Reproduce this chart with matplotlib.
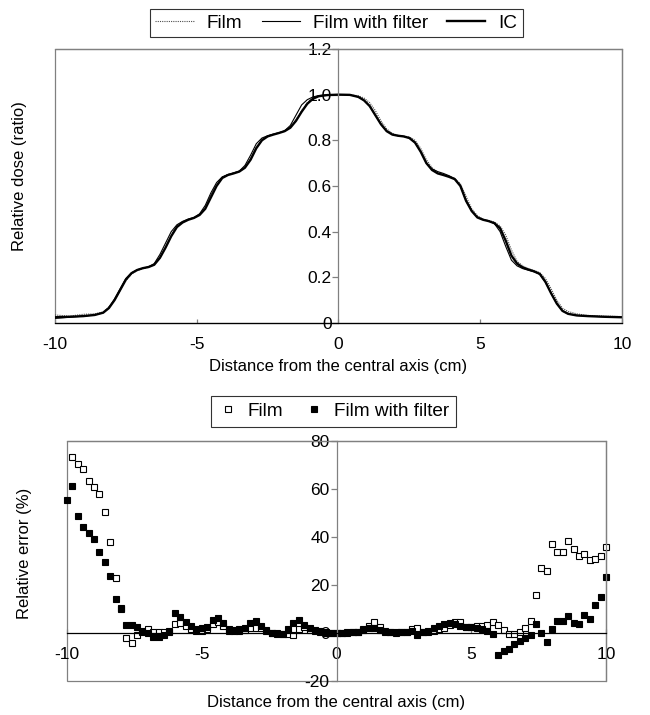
import numpy as np
import matplotlib.pyplot as plt
from matplotlib.patches import Rectangle

plt.rcParams['font.family'] = ['Liberation Sans', 'DejaVu Sans']
plt.rcParams['axes.unicode_minus'] = False

# dose profile (top panel)
dose_x = [-10.0, -9.5, -9.0, -8.6, -8.3, -8.1, -7.9, -7.7, -7.5, -7.3, -7.1, -6.9, -6.7, -6.5, -6.3,
          -6.1, -5.9, -5.7, -5.5, -5.3, -5.1, -4.9, -4.7, -4.5, -4.3, -4.1, -3.9, -3.7, -3.5, -3.3,
          -3.1, -2.9, -2.7, -2.5, -2.3, -2.1, -1.9, -1.7, -1.5, -1.3, -1.1, -0.9, -0.7, -0.4,
          0.0, 0.4, 0.7, 0.9, 1.1, 1.3, 1.5, 1.7, 1.9, 2.1, 2.3, 2.5, 2.7, 2.9, 3.1, 3.3, 3.5, 3.7,
          3.9, 4.1, 4.3, 4.5, 4.7, 4.9, 5.1, 5.3, 5.5, 5.7, 5.9, 6.1, 6.3, 6.5, 6.7, 6.9, 7.1, 7.3,
          7.5, 7.7, 7.9, 8.1, 8.4, 8.8, 9.4, 10.0]
dose_ic = [0.025, 0.027, 0.03, 0.035, 0.045, 0.065, 0.10, 0.145, 0.19, 0.218, 0.232, 0.24, 0.245, 0.255, 0.285,
           0.33, 0.38, 0.42, 0.44, 0.452, 0.46, 0.473, 0.50, 0.55, 0.60, 0.635, 0.648, 0.655, 0.663, 0.68,
           0.715, 0.765, 0.80, 0.817, 0.825, 0.832, 0.84, 0.855, 0.885, 0.925, 0.96, 0.982, 0.993, 0.998,
           1.0, 0.999, 0.99, 0.975, 0.95, 0.91, 0.87, 0.84, 0.825, 0.82, 0.817, 0.81, 0.79, 0.75, 0.70, 0.67,
           0.655, 0.648, 0.64, 0.63, 0.60, 0.535, 0.49, 0.462, 0.452, 0.446, 0.437, 0.415, 0.36, 0.295, 0.26,
           0.243, 0.234, 0.226, 0.215, 0.18, 0.13, 0.085, 0.053, 0.04, 0.033, 0.03, 0.027, 0.025]
dose_filter = [0.02, 0.025, 0.03, 0.035, 0.045, 0.068, 0.105, 0.15, 0.195, 0.22, 0.233, 0.24, 0.246, 0.26, 0.30,
               0.35, 0.40, 0.43, 0.445, 0.455, 0.462, 0.478, 0.515, 0.57, 0.615, 0.64, 0.65, 0.657, 0.665, 0.69,
               0.735, 0.785, 0.81, 0.82, 0.827, 0.833, 0.842, 0.865, 0.91, 0.955, 0.978, 0.99, 0.996, 0.999,
               1.0, 0.999, 0.99, 0.975, 0.95, 0.91, 0.87, 0.84, 0.826, 0.82, 0.817, 0.81, 0.79, 0.75, 0.70, 0.675,
               0.663, 0.655, 0.645, 0.632, 0.60, 0.535, 0.49, 0.463, 0.453, 0.447, 0.435, 0.40, 0.335, 0.275, 0.25,
               0.238, 0.231, 0.224, 0.213, 0.178, 0.13, 0.085, 0.053, 0.04, 0.033, 0.03, 0.027, 0.025]
dose_film = [0.035, 0.03, 0.038, 0.04, 0.048, 0.07, 0.10, 0.14, 0.185, 0.215, 0.23, 0.238, 0.244, 0.255, 0.285,
             0.33, 0.385, 0.425, 0.442, 0.452, 0.46, 0.475, 0.505, 0.56, 0.605, 0.637, 0.65, 0.657, 0.665, 0.682,
             0.72, 0.77, 0.803, 0.818, 0.826, 0.833, 0.84, 0.86, 0.89, 0.93, 0.965, 0.985, 0.995, 0.999,
             1.0, 1.0, 0.995, 0.985, 0.965, 0.93, 0.885, 0.85, 0.83, 0.822, 0.818, 0.815, 0.80, 0.765, 0.715, 0.68,
             0.66, 0.65, 0.642, 0.633, 0.61, 0.555, 0.50, 0.47, 0.455, 0.448, 0.442, 0.425, 0.385, 0.32, 0.27,
             0.25, 0.238, 0.23, 0.22, 0.195, 0.15, 0.10, 0.065, 0.05, 0.04, 0.033, 0.03, 0.028]

# relative error (bottom panel)
err_x = [-10.0, -9.8, -9.6, -9.4, -9.2, -9.0, -8.8, -8.6, -8.4, -8.2,
         -8.0, -7.8, -7.6, -7.4, -7.2, -7.0, -6.8, -6.6, -6.4, -6.2,
         -6.0, -5.8, -5.6, -5.4, -5.2, -5.0, -4.8, -4.6, -4.4, -4.2,
         -4.0, -3.8, -3.6, -3.4, -3.2, -3.0, -2.8, -2.6, -2.4, -2.2,
         -2.0, -1.8, -1.6, -1.4, -1.2, -1.0, -0.8, -0.6, -0.4, -0.2,
         0.0, 0.2, 0.4, 0.6, 0.8, 1.0, 1.2, 1.4, 1.6, 1.8,
         2.0, 2.2, 2.4, 2.6, 2.8, 3.0, 3.2, 3.4, 3.6, 3.8,
         4.0, 4.2, 4.4, 4.6, 4.8, 5.0, 5.2, 5.4, 5.6, 5.8,
         6.0, 6.2, 6.4, 6.6, 6.8, 7.0, 7.2, 7.4, 7.6, 7.8,
         8.0, 8.2, 8.4, 8.6, 8.8, 9.0, 9.2, 9.4, 9.6, 9.8,
         10.0]
err_film = [np.nan, 73.2, 70.3, 68.2, 63.5, 61.0, 57.8, 50.4, 38.1, 23.1,
            10.0, -2.2, -4.0, -0.8, 0.6, 1.5, 0.6, 0.6, 0.6, 0.8,
            3.8, 4.0, 3.0, 1.5, 1.0, 1.0, 1.5, 3.8, 4.5, 3.0,
            1.0, 0.8, 1.0, 1.2, 2.0, 2.2, 2.0, 0.8, 0.0, -0.3,
            -0.5, -0.5, -0.8, 1.5, 2.5, 1.2, 0.8, 0.5, 0.3, 0.0,
            0.0, 0.1, 0.2, 0.3, 0.6, 1.5, 3.0, 4.7, 2.6, 1.0,
            0.3, 0.0, 0.3, 0.5, 1.5, 1.9, 0.5, 0.5, 1.0, 1.5,
            2.0, 3.5, 4.4, 4.4, 2.6, 2.6, 3.0, 3.0, 3.3, 4.7,
            3.3, 1.3, -0.6, -0.6, 0.6, 1.9, 5.0, 15.7, 27.1, 26.0,
            36.9, 33.6, 33.6, 38.2, 35.0, 32.2, 33.1, 30.4, 30.8, 32.1,
            36.0]
err_filter = [55.4, 61.4, 48.9, 44.0, 41.8, 39.2, 33.9, 29.4, 23.8, 14.0,
              10.6, 3.3, 3.3, 2.6, 0.8, -0.1, -1.5, -1.5, -0.8, 0.6,
              8.5, 6.8, 4.5, 3.0, 1.5, 1.9, 2.6, 5.4, 6.1, 4.0,
              1.5, 1.2, 1.5, 1.9, 4.0, 5.1, 2.9, 1.2, 0.1, -0.1,
              -0.4, 1.5, 4.0, 5.4, 3.3, 1.9, 1.2, 1.0, 0.1, 0.0,
              0.0, 0.0, 0.1, 0.3, 0.6, 1.2, 2.0, 2.2, 1.2, 0.6,
              0.3, 0.3, 0.2, 0.5, 0.8, -0.8, 0.3, 1.0, 2.0, 3.0,
              3.6, 4.2, 3.8, 2.8, 2.4, 2.3, 2.0, 1.8, 0.8, -0.3,
              -9.2, -7.4, -6.8, -4.6, -3.2, -2.2, -0.8, 3.6, -0.1, -3.6,
              1.5, 5.1, 5.1, 7.2, 4.0, 3.75, 7.5, 5.7, 11.7, 15.1,
              23.2]

x_ticks = [-10, -5, 0, 5, 10]
dose_yticks = [0, 0.2, 0.4, 0.6, 0.8, 1.0, 1.2]
dose_ylabels = ['0', '0.2', '0.4', '0.6', '0.8', '1.0', '1.2']
err_yticks = [-20, 0, 20, 40, 60, 80]

GRAY = '#808080'
FS = 12
TICK_FS = 12.5
LEG_FS = 13.7

fig = plt.figure(figsize=(6.5, 7.15), dpi=100)
ax1 = fig.add_axes([0.0846, 0.5483, 0.8723, 0.3832])
ax2 = fig.add_axes([0.1031, 0.0476, 0.8292, 0.3357])


def style_axes(ax):
    # box frame in gray, axes crossing at the origin
    for s in ('top', 'right'):
        ax.spines[s].set_color(GRAY)
        ax.spines[s].set_linewidth(0.9)
    ax.spines['left'].set_position(('data', 0))
    ax.spines['left'].set_color(GRAY)
    ax.spines['left'].set_linewidth(0.9)
    ax.spines['bottom'].set_position(('data', 0))
    ax.spines['bottom'].set_color('black')
    ax.spines['bottom'].set_linewidth(0.9)
    ax.add_patch(Rectangle((0, 0), 1, 1, transform=ax.transAxes, fill=False,
                           ec=GRAY, lw=0.9, clip_on=False, zorder=0))
    ax.tick_params(axis='y', direction='out', length=4, width=0.9, color=GRAY,
                   labelsize=TICK_FS, pad=1)
    ax.tick_params(axis='x', direction='in', length=3, width=0.9, color=GRAY,
                   labelsize=TICK_FS, pad=10)
    ax.set_xlim(-10, 10)
    ax.set_xticks(x_ticks)


style_axes(ax1)
ax1.plot(dose_x, dose_film, color='0.3', lw=0.8, ls=(0, (1, 1)), label='Film')
ax1.plot(dose_x, dose_filter, color='black', lw=0.8, label='Film with filter')
ax1.plot(dose_x, dose_ic, color='black', lw=1.7, label='IC')
ax1.set_ylim(0, 1.2)
ax1.set_yticks(dose_yticks)
ax1.set_yticklabels(dose_ylabels)
ax1.set_xlabel('Distance from the central axis (cm)', fontsize=FS)
ax1.xaxis.set_label_coords(0.5, -0.13)
ax1.set_ylabel('Relative dose (ratio)', fontsize=FS)
ax1.yaxis.set_label_coords(-0.049, 0.536)
leg1 = fig.legend(*ax1.get_legend_handles_labels(), loc='center', bbox_to_anchor=(0.5177, 0.9678),
                  ncol=3, fontsize=LEG_FS, frameon=True, fancybox=False, edgecolor='black',
                  handlelength=2.0, handletextpad=0.7, columnspacing=1.0, borderpad=0.3)
leg1.get_frame().set_linewidth(0.8)

style_axes(ax2)
ax2.plot(err_x, err_film, ls='none', marker='s', ms=4.6, mfc='white', mec='black', mew=0.8,
         clip_on=False, label='Film')
ax2.plot(err_x, err_filter, ls='none', marker='s', ms=4.6, mfc='black', mec='black', mew=0.8,
         clip_on=False, label='Film with filter')
ax2.set_ylim(-20, 80)
ax2.set_yticks(err_yticks)
ax2.set_xlabel('Distance from the central axis (cm)', fontsize=FS)
ax2.xaxis.set_label_coords(0.5, -0.06)
ax2.set_ylabel('Relative error (%)', fontsize=FS)
ax2.yaxis.set_label_coords(-0.065, 0.533)
leg2 = fig.legend(*ax2.get_legend_handles_labels(), loc='center', bbox_to_anchor=(0.513, 0.4245),
                  ncol=2, fontsize=LEG_FS, frameon=True, fancybox=False, edgecolor='black',
                  handlelength=1.0, handletextpad=0.55, columnspacing=1.1, borderpad=0.35,
                  markerscale=0.9)
leg2.get_frame().set_linewidth(0.8)

plt.savefig('out.png', dpi=100)
